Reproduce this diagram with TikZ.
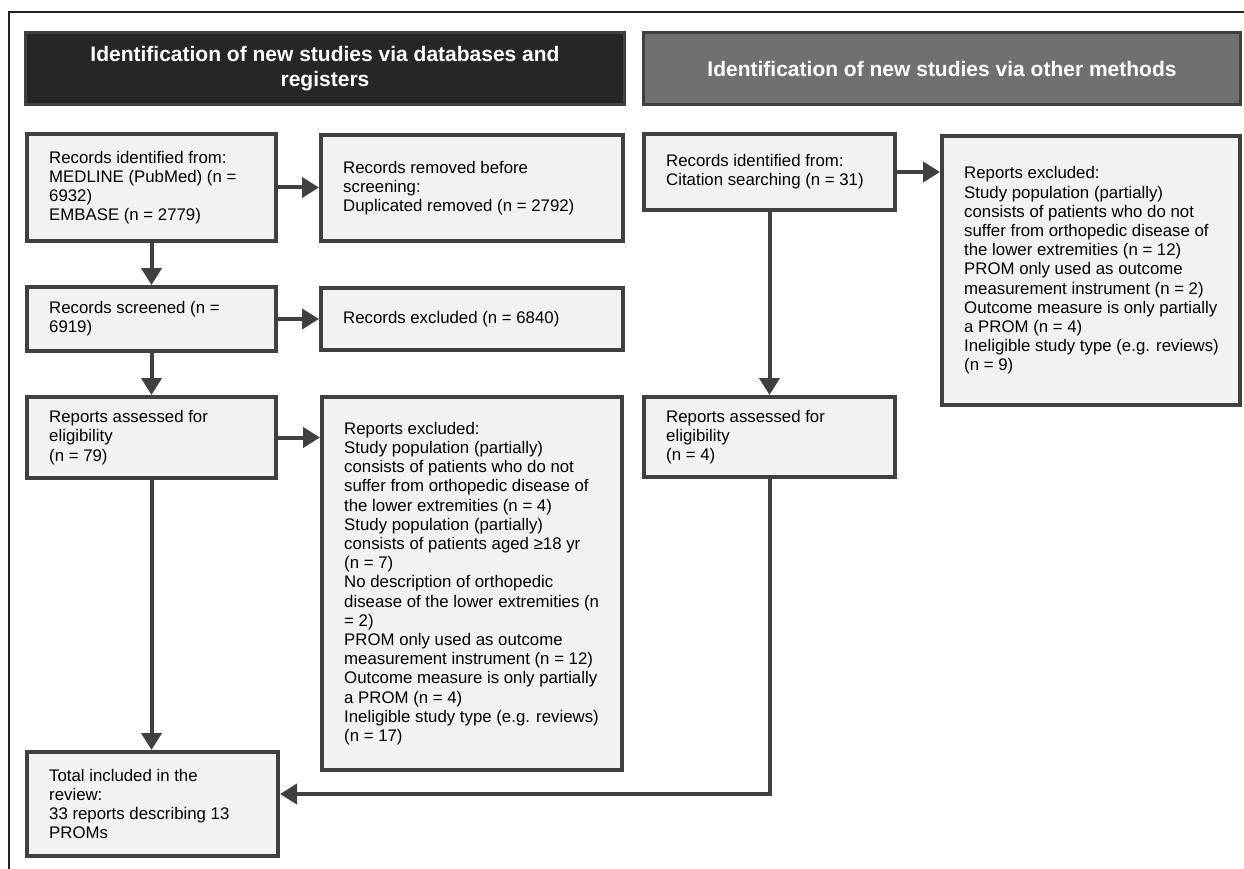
\documentclass[tikz,border=0pt]{standalone}
\usepackage{fontspec}
\setmainfont{Liberation Sans}
\usetikzlibrary{arrows.meta}
\definecolor{boxfill}{HTML}{F2F2F2}
\definecolor{boxline}{HTML}{404040}
\definecolor{headdark}{HTML}{262626}
\definecolor{headgray}{HTML}{707070}
\definecolor{framecol}{HTML}{222222}
\newcommand\flowbox[6]{%
  \node[box, minimum width=#4pt-4pt, minimum height=#5pt-4pt] (#1) at (#2,#3) {};
  \node[boxtext] (#1t) at ([xshift=24pt]#1.west) {#6};
}
\begin{document}
\begin{tikzpicture}[x=1pt,y=-1pt,
  box/.style={draw=boxline, line width=4pt, fill=boxfill, inner sep=0pt, rectangle},
  boxtext/.style={anchor=west, align=left, inner sep=0pt, font=\fontsize{16.8}{19.2}\selectfont, text=black},
  header/.style={draw=boxline, line width=3pt, inner sep=0pt, text=white, align=center, font=\bfseries\fontsize{21}{24.5}\selectfont},
  conn/.style={draw=boxline, line width=4pt, -{Triangle[length=17pt,width=20pt]}},
]
\useasboundingbox (0,0) rectangle (1244,869);
\draw[framecol, line width=1.3pt] (9,869) -- (9,12) -- (1244,12);

\node[header, fill=headdark, minimum width=599pt, minimum height=72pt] (h1) at (325,68.5) {Identification of new studies via databases and\\registers};
\node[header, fill=headgray, minimum width=597pt, minimum height=72pt] (h2) at (942,68.5) {Identification of new studies via other methods};

\flowbox{A}{151.5}{187.5}{253}{111}{Records identified from:\\MEDLINE (PubMed) (n =\\6932)\\EMBASE (n = 2779)}
\flowbox{B}{472}{188}{306}{110}{Records removed before\\screening:\\Duplicated removed (n = 2792)}
\flowbox{C}{151.5}{319}{253}{68}{Records screened (n =\\6919)}
\flowbox{D}{472}{319}{306}{66}{Records excluded (n = 6840)}
\flowbox{E}{151.5}{437.5}{253}{85}{Reports assessed for\\eligibility\\(n = 79)}
\flowbox{F}{472}{583.5}{304}{377}{Reports excluded:\\Study population (partially)\\consists of patients who do not\\suffer from orthopedic disease of\\the lower extremities (n = 4)\\Study population (partially)\\consists of patients aged ≥18 yr\\(n = 7)\\No description of orthopedic\\disease of the lower extremities (n\\= 2)\\PROM only used as outcome\\measurement instrument (n = 12)\\Outcome measure is only partially\\a PROM (n = 4)\\Ineligible study type (e.g. reviews)\\(n = 17)}
\flowbox{G}{152.5}{804}{255}{108}{Total included in the\\review:\\33 reports describing 13\\PROMs}
\flowbox{H}{769.5}{172}{255}{80}{Records identified from:\\Citation searching (n = 31)}
\flowbox{I}{1091}{270.5}{302}{273}{Reports excluded:\\Study population (partially)\\consists of patients who do not\\suffer from orthopedic disease of\\the lower extremities (n = 12)\\PROM only used as outcome\\measurement instrument (n = 2)\\Outcome measure is only partially\\a PROM (n = 4)\\Ineligible study type (e.g. reviews)\\(n = 9)}
\flowbox{J}{769.5}{437}{255}{84}{Reports assessed for\\eligibility\\(n = 4)}

\draw[conn] (A.east) -- (A.east -| B.west);
\draw[conn] (A.south) -- (C.north);
\draw[conn] (C.east) -- (C.east -| D.west);
\draw[conn] (C.south) -- (E.north);
\draw[conn] (E.east) -- (E.east -| F.west);
\draw[conn] (E.south) -- (E.south |- G.north);
\draw[conn] (H.east) -- (H.east -| I.west);
\draw[conn] (H.south) -- (J.north);
\draw[conn] (J.south) |- ([yshift=10pt]G.east);
\end{tikzpicture}
\end{document}
